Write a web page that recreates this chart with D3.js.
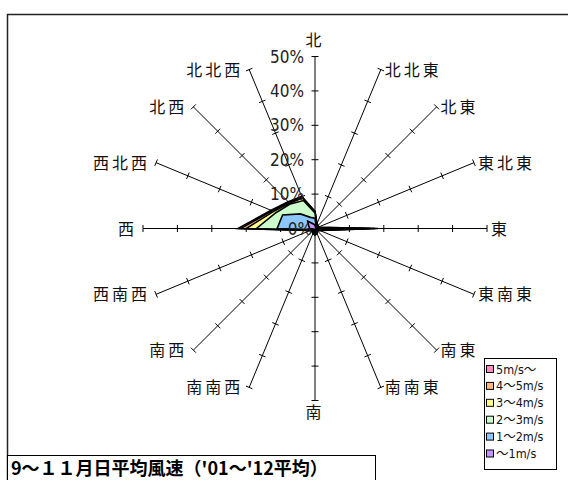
<!DOCTYPE html>
<html>
<head>
<meta charset="utf-8">
<script src="https://cdn.jsdelivr.net/npm/d3@7"></script>
<style>
  body { margin: 0; background: #fff; }
  svg { display: block; }
</style>
</head>
<body>
<div id="chart"></div>
<script>

// 16 compass directions, clockwise from north
var directions = ["北", "北北東", "北東", "東北東", "東", "東南東", "南東", "南南東",
	"南", "南南西", "南西", "西南西", "西", "西北西", "北西", "北北西"];

// cumulative frequency (%) per speed class
var seriesNames = ["5m/s～", "4～5m/s", "3～4m/s", "2～3m/s", "1～2m/s", "～1m/s"];
var over5  = [5.0, 1.5, 1.2, 1.0, 18.3, 1.5, 1.0, 1.5, 2.0, 1.5, 1.2, 1.5, 22.4, 13.8, 11.0, 10.1];
var to5    = [4.9, 1.4, 1.1, 0.9, 17.5, 1.4, 0.9, 1.4, 1.9, 1.4, 1.1, 1.4, 21.6, 13.5, 10.8, 9.9];
var to4    = [4.8, 1.3, 1.0, 0.8, 16.0, 1.3, 0.8, 1.3, 1.8, 1.3, 1.0, 1.3, 20.0, 13.0, 10.4, 9.6];
var to3    = [4.5, 1.1, 0.9, 0.7, 13.0, 1.1, 0.7, 1.1, 1.6, 1.1, 0.9, 1.1, 17.0, 12.2, 10.1, 8.8];
var to2    = [3.0, 0.8, 0.7, 0.5, 8.0, 0.8, 0.5, 0.8, 1.2, 0.8, 0.7, 0.8, 11.0, 10.2, 6.0, 3.5];
var to1    = [1.0, 0.4, 0.3, 0.3, 2.0, 0.4, 0.3, 0.4, 0.6, 0.4, 0.3, 0.4, 1.5, 2.0, 3.0, 1.5];
var seriesValues = [over5, to5, to4, to3, to2, to1];
var seriesColors = ["#ff8cc0", "#ffb880", "#ffff8c", "#ccffcc", "#8cc8ff", "#c494ff"];

var tickValues = [0, 10, 20, 30, 40, 50];
var titleText = "9～１１月日平均風速（'01～'12平均）";

var width = 568, height = 480;
var cx = 315, cy = 228.5, radius = 172;
var narrowFont = "'DejaVu Sans Condensed', 'Liberation Sans Narrow', 'Noto Sans CJK JP', sans-serif";

var svg = d3.select("#chart").append("svg")
	.attr("width", width)
	.attr("height", height);

// chart border
svg.append("rect")
	.attr("x", 7.5).attr("y", 14.5)
	.attr("width", 600).attr("height", 500)
	.attr("fill", "#fff")
	.attr("stroke", "#222")
	.attr("stroke-width", 1.5);

var r = d3.scaleLinear().domain([0, 50]).range([0, radius]);
var angle = d3.scaleLinear().domain([0, directions.length]).range([0, 2 * Math.PI]);

function px(i, v){ return cx + r(v) * Math.sin(angle(i)); }
function py(i, v){ return cy - r(v) * Math.cos(angle(i)); }

// spokes with tick marks
var spokes = svg.append("g");
directions.forEach(function(d, i){
	var a = angle(i);
	spokes.append("line")
		.attr("x1", cx).attr("y1", cy)
		.attr("x2", px(i, 50)).attr("y2", py(i, 50))
		.attr("stroke", "#000").attr("stroke-width", 1);
	tickValues.slice(1).forEach(function(t){
		var x = px(i, t), y = py(i, t);
		var nx = Math.cos(a) * 3.5, ny = Math.sin(a) * 3.5;
		spokes.append("line")
			.attr("x1", x - nx).attr("y1", y - ny)
			.attr("x2", x + nx).attr("y2", y + ny)
			.attr("stroke", "#000").attr("stroke-width", 1);
	});
});

// filled polygons, outermost class first
var radarLine = d3.lineRadial()
	.angle(function(d, i){ return angle(i); })
	.radius(function(d){ return r(d); })
	.curve(d3.curveLinearClosed);

svg.append("g")
	.attr("transform", "translate(" + cx + "," + cy + ")")
	.selectAll("path")
	.data(seriesValues)
	.join("path")
	.attr("d", function(d){ return radarLine(d); })
	.attr("fill", function(d, i){ return seriesColors[i]; })
	.attr("stroke", "#000")
	.attr("stroke-width", 1.6)
	.attr("stroke-linejoin", "miter");

// percent labels along the north spoke
svg.append("g").selectAll("text")
	.data(tickValues)
	.join("text")
	.attr("x", function(d){ return d === 0 ? cx - 3 : cx - 11; })
	.attr("y", function(d){ return cy - r(d); })
	.attr("dy", "0.36em")
	.attr("text-anchor", "end")
	.attr("font-family", narrowFont)
	.attr("font-size", 17)
	.attr("fill", "#222")
	.text(function(d){ return d + "%"; });

// direction labels
svg.append("g").selectAll("text")
	.data(directions)
	.join("text")
	.each(function(d, i){
		var s = Math.sin(angle(i)), c = Math.cos(angle(i));
		var x = px(i, 50), y = py(i, 50);
		var t = d3.select(this);
		if (Math.abs(s) < 0.1) {
			t.attr("text-anchor", "middle").attr("x", x).attr("y", c > 0 ? y - 11 : y + 17);
		} else if (s > 0) {
			t.attr("text-anchor", "start").attr("x", x + 4).attr("y", y + 6);
		} else {
			t.attr("text-anchor", "end").attr("x", x - 6).attr("y", y + 6);
		}
	})
	.attr("font-family", "'Noto Sans CJK JP', sans-serif")
	.attr("font-size", 16)
	.attr("letter-spacing", 3)
	.attr("fill", "#111")
	.text(function(d){ return d; });

// legend
var legend = svg.append("g");
legend.append("rect")
	.attr("x", 484.5).attr("y", 358.5)
	.attr("width", 72).attr("height", 111)
	.attr("fill", "#fff").attr("stroke", "#000").attr("stroke-width", 1);

var rows = legend.selectAll("g.row")
	.data(seriesNames)
	.join("g")
	.attr("class", "row")
	.attr("transform", function(d, i){ return "translate(486," + (369 + i * 16.9) + ")"; });
rows.append("rect")
	.attr("x", 0.5).attr("y", -3.5)
	.attr("width", 7).attr("height", 7)
	.attr("fill", function(d, i){ return seriesColors[i]; })
	.attr("stroke", "#000").attr("stroke-width", 1);
rows.append("text")
	.attr("x", 10).attr("y", 0)
	.attr("dy", "0.36em")
	.attr("font-family", narrowFont)
	.attr("font-size", 12.5)
	.attr("fill", "#111")
	.text(function(d){ return d; });

// title box
svg.append("rect")
	.attr("x", 7.5).attr("y", 455.5)
	.attr("width", 368).attr("height", 40)
	.attr("fill", "#fff").attr("stroke", "#000").attr("stroke-width", 1);
svg.append("text")
	.attr("x", 11).attr("y", 475)
	.attr("font-family", "'Noto Sans CJK JP', sans-serif")
	.attr("font-size", 18)
	.attr("font-weight", "bold")
	.attr("fill", "#000")
	.text(titleText);

</script>
</body>
</html>
